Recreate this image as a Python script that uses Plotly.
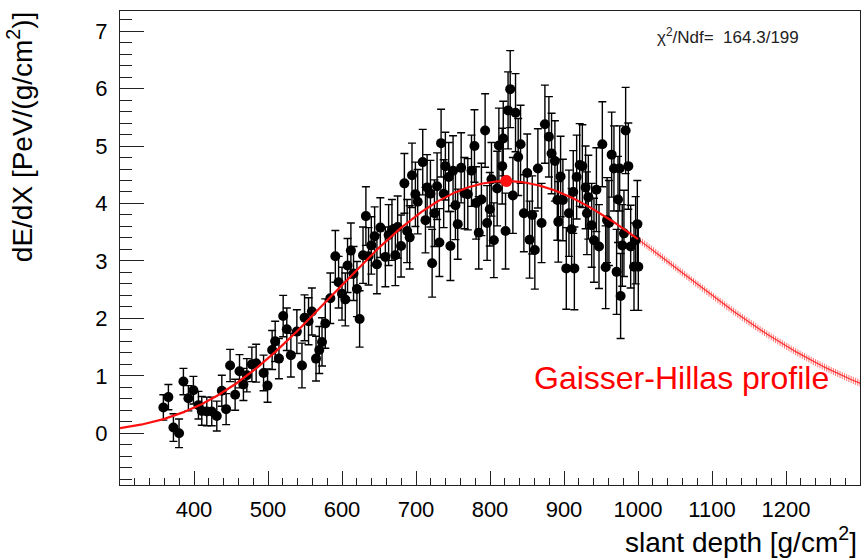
import numpy as np
import plotly.graph_objects as go

# Measured energy-deposit profile: slant depth [g/cm^2], dE/dX [PeV/(g/cm^2)], 1-sigma errors
depth = [
    358.6, 365.4, 372.2, 379.8, 385.7, 392.4, 399.2, 406.0, 410.5, 417.3,
    424.0, 430.8, 437.6, 443.4, 448.8, 455.6, 461.5, 466.8, 471.4, 478.2,
    484.0, 494.0, 499.4, 505.6, 509.7, 514.8, 520.5, 525.4, 530.9, 539.0,
    545.9, 549.4, 554.8, 559.3, 564.9, 569.3, 573.0, 577.4, 584.2, 591.0,
    595.4, 600.0, 604.5, 607.5, 612.0, 615.6, 620.2, 623.8, 628.4, 632.3,
    635.9, 639.6, 644.1, 647.2, 651.8, 658.6, 663.0, 667.5, 672.1, 675.2,
    679.8, 684.3, 688.0, 691.5, 694.6, 699.2, 702.3, 709.1, 712.8, 715.0,
    719.5, 721.8, 724.9, 728.5, 731.6, 733.9, 737.4, 739.7, 744.2, 746.5,
    750.1, 753.3, 756.4, 761.0, 765.5, 770.0, 775.0, 779.0, 781.2, 784.8,
    788.4, 793.4, 796.1, 799.7, 802.0, 805.2, 809.7, 812.0, 816.5, 817.9,
    821.0, 824.4, 827.3, 830.9, 834.5, 838.1, 841.3, 845.8, 850.3, 853.5,
    857.1, 860.6, 864.7, 869.7, 874.2, 879.6, 883.2, 887.7, 891.0, 892.3,
    895.4, 898.5, 903.1, 906.7, 910.3, 912.5, 914.0, 917.1, 921.2, 924.8,
    929.2, 931.0, 932.9, 937.4, 940.5, 943.8, 947.3, 951.8, 956.3, 958.2,
    960.7, 964.4, 967.5, 971.1, 973.0, 975.2, 976.5, 978.7, 981.0, 983.3,
    986.9, 990.1, 994.6, 996.8, 999.1, 1000.4,
]

dedx = [
    0.45, 0.63, 0.10, 0.00, 0.90, 0.61, 0.75, 0.49, 0.39, 0.38,
    0.38, 0.30, 0.74, 0.42, 1.18, 0.67, 1.08, 0.85, 1.01, 1.20,
    1.22, 1.05, 0.83, 1.45, 1.60, 1.30, 2.04, 1.81, 1.36, 1.77,
    1.18, 2.01, 1.95, 2.12, 1.30, 1.45, 1.59, 1.91, 2.35, 3.08,
    2.63, 2.43, 2.33, 2.92, 3.18, 2.78, 2.51, 1.99, 3.10, 3.78,
    3.08, 3.27, 3.43, 2.94, 3.58, 3.07, 3.45, 3.54, 3.10, 3.59,
    3.26, 4.35, 3.52, 3.41, 4.49, 4.16, 4.03, 4.72, 3.71, 4.28,
    4.17, 2.96, 3.83, 4.30, 3.32, 5.05, 4.17, 4.65, 4.46, 3.26,
    4.57, 3.97, 3.64, 4.62, 4.18, 4.16, 4.57, 5.00, 4.01, 3.49,
    4.07, 5.27, 3.66, 3.90, 4.42, 3.36, 4.26, 5.01, 4.65, 5.13,
    3.52, 5.62, 5.99, 4.14, 5.58, 4.81, 5.03, 3.83, 4.53, 3.37,
    3.80, 3.19, 4.61, 3.66, 5.38, 5.16, 4.87, 4.74, 4.06, 3.68,
    4.47, 4.06, 2.87, 3.83, 3.55, 4.20, 2.87, 4.46, 4.67, 4.65,
    4.28, 3.83, 4.11, 3.62, 3.36, 4.24, 3.25, 5.03, 2.89, 3.71,
    3.66, 4.85, 4.61, 2.81, 4.07, 4.61, 2.39, 3.27, 3.48, 5.27,
    4.65, 3.25, 2.90, 3.36, 3.64, 2.90,
]

dedx_err = [
    0.22, 0.22, 0.24, 0.25, 0.23, 0.22, 0.24, 0.24, 0.25, 0.25,
    0.25, 0.26, 0.27, 0.27, 0.28, 0.27, 0.29, 0.28, 0.29, 0.30,
    0.33, 0.31, 0.29, 0.34, 0.35, 0.35, 0.36, 0.37, 0.38, 0.38,
    0.39, 0.40, 0.41, 0.41, 0.39, 0.41, 0.42, 0.43, 0.44, 0.45,
    0.45, 0.46, 0.46, 0.47, 0.48, 0.47, 0.48, 0.49, 0.49, 0.51,
    0.50, 0.50, 0.51, 0.51, 0.52, 0.52, 0.53, 0.53, 0.53, 0.54,
    0.54, 0.52, 0.55, 0.55, 0.56, 0.56, 0.56, 0.57, 0.57, 0.57,
    0.58, 0.59, 0.58, 0.58, 0.59, 0.59, 0.59, 0.59, 0.60, 0.60,
    0.61, 0.60, 0.61, 0.61, 0.62, 0.62, 0.62, 0.63, 0.63, 0.63,
    0.63, 0.64, 0.65, 0.64, 0.64, 0.65, 0.65, 0.65, 0.66, 0.65,
    0.66, 0.67, 0.67, 0.66, 0.68, 0.67, 0.68, 0.67, 0.68, 0.67,
    0.68, 0.68, 0.69, 0.69, 0.68, 0.70, 0.70, 0.70, 0.70, 0.70,
    0.70, 0.71, 0.71, 0.75, 0.71, 0.72, 0.72, 0.73, 0.72, 0.72,
    0.72, 0.72, 0.73, 0.73, 0.73, 0.73, 0.73, 0.74, 0.72, 0.74,
    0.74, 0.74, 0.74, 0.74, 0.75, 0.74, 0.74, 0.71, 0.75, 0.75,
    0.75, 0.72, 0.76, 0.76, 0.76, 0.76,
]

# Gaisser-Hillas fit result
gh_nmax = 4.39      # PeV/(g/cm^2)
gh_xmax = 822.0     # g/cm^2
gh_x0 = -208.0      # g/cm^2
gh_lambda = 52.8    # g/cm^2
fit_end = 1000.0    # last depth of the fitted range
chi2, ndf = 164.3, 199

x_range = [300, 1300]
y_range = [-0.9, 7.35]
x_tick_vals = [400, 500, 600, 700, 800, 900, 1000, 1100, 1200]
y_tick_vals = [0, 1, 2, 3, 4, 5, 6, 7]

FONT = "Liberation Sans, Arial, Helvetica, sans-serif"


def gaisser_hillas(x):
    w = gh_xmax - gh_x0
    u = np.clip((x - gh_x0) / w, 1e-9, None)
    return gh_nmax * u ** (w / gh_lambda) * np.exp((gh_xmax - x) / gh_lambda)


x_in = np.linspace(x_range[0], fit_end, 701)
x_out = np.linspace(fit_end, x_range[1], 101)

fig = go.Figure()

# extrapolation of the profile beyond the fitted range (hatched look)
fig.add_trace(go.Scatter(
    x=x_out, y=gaisser_hillas(x_out), mode="lines+markers",
    line=dict(color="rgba(255,30,30,0.85)", width=1.2),
    marker=dict(symbol="line-ns", size=5,
                line=dict(color="rgba(255,0,0,0.55)", width=1)),
    hoverinfo="skip", showlegend=False,
))

# measured points
fig.add_trace(go.Scatter(
    x=depth, y=dedx, mode="markers",
    marker=dict(color="black", size=10),
    error_y=dict(type="data", array=dedx_err, visible=True,
                 color="black", thickness=1.4, width=4),
    showlegend=False,
))

# fitted profile over the data range
fig.add_trace(go.Scatter(
    x=x_in, y=gaisser_hillas(x_in), mode="lines",
    line=dict(color="#ff1010", width=2.2),
    hoverinfo="skip", showlegend=False,
))

# shower maximum
fig.add_trace(go.Scatter(
    x=[gh_xmax], y=[gh_nmax], mode="markers",
    marker=dict(color="#ff1010", size=12),
    showlegend=False,
))

axis_common = dict(
    showline=True, linecolor="#222222", linewidth=1, mirror=True,
    ticks="inside", tickcolor="#222222", tickwidth=1,
    showgrid=False, zeroline=False,
    tickfont=dict(family=FONT, size=22, color="black"),
)

fig.update_xaxes(
    range=x_range, tickmode="array", tickvals=x_tick_vals, ticklen=14,
    minor=dict(ticks="inside", dtick=20, tick0=300, ticklen=7,
               tickcolor="#222222", tickwidth=1, showgrid=False),
    ticklabelstandoff=5,
    **axis_common,
)
fig.update_yaxes(
    range=y_range, tickmode="array", tickvals=y_tick_vals, ticklen=24,
    minor=dict(ticks="inside", dtick=0.2, tick0=0, ticklen=12,
               tickcolor="#222222", tickwidth=1, showgrid=False),
    ticklabelstandoff=7,
    **axis_common,
)

fig.update_layout(
    width=862, height=560,
    margin=dict(l=120, r=2, t=11, b=75),
    paper_bgcolor="white", plot_bgcolor="white",
    font=dict(family=FONT, color="black"),
    annotations=[
        dict(text="dE/dX [PeV/(g/cm<sup>2</sup>)]", textangle=-90,
             xref="paper", yref="paper", x=-0.135, y=1.003,
             xanchor="center", yanchor="top", showarrow=False,
             font=dict(family=FONT, size=28, color="black")),
        dict(text="slant depth [g/cm<sup>2</sup>]",
             xref="paper", yref="paper", x=0.998, y=-0.158,
             xanchor="right", yanchor="bottom", showarrow=False,
             font=dict(family=FONT, size=28, color="black")),
        dict(text=f"\u03c7<sup>2</sup>/Ndf=  {chi2:.1f}/{ndf}",
             xref="paper", yref="paper", x=0.723, y=0.948,
             xanchor="left", yanchor="middle", showarrow=False,
             font=dict(family=FONT, size=17, color="#222222")),
        dict(text="Gaisser-Hillas profile",
             xref="x", yref="y", x=857, y=0.97,
             xanchor="left", yanchor="middle", showarrow=False,
             font=dict(family=FONT, size=32, color="#ff0000")),
    ],
)

fig.write_html("out.html")
